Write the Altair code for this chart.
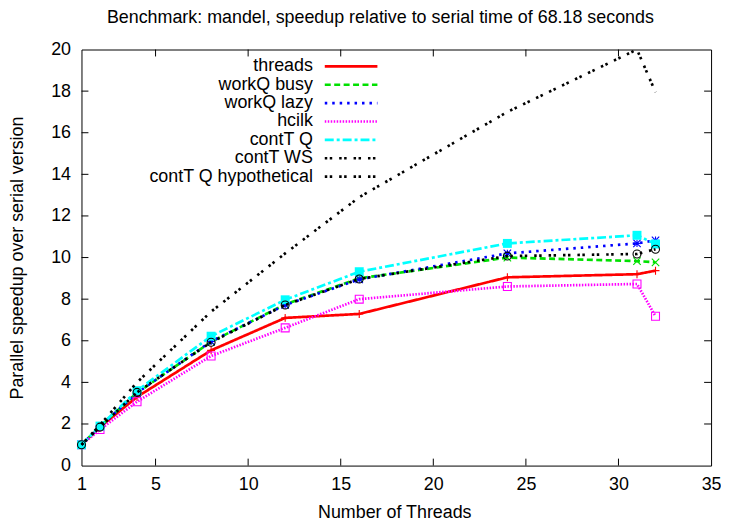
import altair as alt
import pandas as pd

threads_x = [1, 2, 4, 8, 12, 16, 24, 31, 32]

threads = [1.0, 1.85, 3.3, 5.54, 7.1, 7.29, 9.05, 9.2, 9.37]
workq_busy = [1.0, 1.88, 3.5, 5.95, 7.75, 9.0, 10.0, 9.83, 9.77]
workq_lazy = [1.0, 1.87, 3.5, 5.97, 7.72, 8.95, 10.2, 10.68, 10.83]
hcilk = [1.0, 1.73, 3.07, 5.27, 6.62, 8.0, 8.61, 8.73, 7.18]
contt_q = [1.0, 1.9, 3.6, 6.22, 7.97, 9.32, 10.68, 11.07, 10.65]
contt_ws = [1.0, 1.85, 3.52, 5.93, 7.72, 8.97, 10.07, 10.17, 10.4]
contt_q_hyp = [1.0, 1.95, 4.0, 7.4, 10.2, 12.9, 17.0, 20.0, 17.95]

series_names = ["threads", "workQ busy", "workQ lazy", "hcilk", "contT Q",
                "contT WS", "contT Q hypothetical"]
series_values = [threads, workq_busy, workq_lazy, hcilk, contt_q, contt_ws, contt_q_hyp]

x_ticks = [1, 5, 10, 15, 20, 25, 30, 35]
y_ticks = [0, 2, 4, 6, 8, 10, 12, 14, 16, 18, 20]

title_text = "Benchmark: mandel, speedup relative to serial time of 68.18 seconds"
x_title = "Number of Threads"
y_title = "Parallel speedup over serial version"

FONT = "Liberation Sans"
FS = 18
W, H = 634, 419

PLUS = "M-1,0L1,0M0,-1L0,1"
CROSS = "M-1,-1L1,1M-1,1L1,-1"
STAR = "M-1,0L1,0M0,-1L0,1M-1,-1L1,1M-1,1L1,-1"

styles = [
    dict(color="#ff0000", dash=[1, 0], shape=PLUS, filled=False, size=64),
    dict(color="#00e000", dash=[6, 3.5], shape=CROSS, filled=False, size=56),
    dict(color="#0000ff", dash=[2.5, 5], shape=STAR, filled=False, size=56),
    dict(color="#ff00ff", dash=[1.5, 1.5], shape="square", filled=False, size=64),
    dict(color="#00ffff", dash=[9, 3, 3, 3], shape="square", filled=True, size=81),
    dict(color="#000000", dash=[2.5, 2.5, 2.5, 7], shape="circle", filled=False, size=64),
    dict(color="#000000", dash=[2.5, 2.5, 2.5, 7], shape=None, filled=False, size=0),
]

xs = alt.Scale(domain=[1, 35], nice=False, zero=False)
ys = alt.Scale(domain=[0, 20], nice=False, zero=False)

x_axis = alt.Axis(values=x_ticks, title=x_title, domain=False, ticks=False, grid=False,
                  labelFont=FONT, labelFontSize=FS, labelColor="black", labelPadding=10,
                  titleFont=FONT, titleFontSize=FS, titleFontWeight="normal", titleColor="black",
                  titleX=W / 2 - 2, titleY=47, titleBaseline="middle", labelFlush=False)
y_axis = alt.Axis(values=y_ticks, title=y_title, domain=False, ticks=False, grid=False,
                  labelFont=FONT, labelFontSize=FS, labelColor="black", labelPadding=11,
                  titleFont=FONT, titleFontSize=FS, titleFontWeight="normal", titleColor="black",
                  titleX=-64, titleY=H / 2, titleBaseline="middle", titleAngle=-90,
                  labelFlush=False)

layers = []

# inward tick marks (bottom/top for x, left/right for y)
xt = pd.DataFrame({"t": x_ticks[1:-1]})
yt = pd.DataFrame({"t": y_ticks[1:-1]})
tick_len = 7
layers.append(alt.Chart(xt).mark_rule(color="black", strokeWidth=1).encode(
    x=alt.X("t:Q", scale=xs, axis=x_axis), y=alt.value(H), y2=alt.value(H - tick_len)))
layers.append(alt.Chart(xt).mark_rule(color="black", strokeWidth=1).encode(
    x=alt.X("t:Q", scale=xs), y=alt.value(0), y2=alt.value(tick_len)))
layers.append(alt.Chart(yt).mark_rule(color="black", strokeWidth=1).encode(
    y=alt.Y("t:Q", scale=ys, axis=y_axis), x=alt.value(0), x2=alt.value(tick_len)))
layers.append(alt.Chart(yt).mark_rule(color="black", strokeWidth=1).encode(
    y=alt.Y("t:Q", scale=ys), x=alt.value(W), x2=alt.value(W - tick_len)))

for i, (name, vals, st) in enumerate(zip(series_names, series_values, styles)):
    df = pd.DataFrame({"threads": threads_x, "speedup": vals, "series": name})
    base = alt.Chart(df).encode(x=alt.X("threads:Q", scale=xs),
                                y=alt.Y("speedup:Q", scale=ys))
    layers.append(base.mark_line(color=st["color"], strokeWidth=2.7,
                                 strokeDash=st["dash"], strokeCap="butt"))
    if st["shape"] is not None:
        if st["filled"]:
            layers.append(base.mark_point(shape=st["shape"], filled=True, color=st["color"],
                                          size=st["size"], opacity=1))
        else:
            layers.append(base.mark_point(shape=st["shape"], filled=False, color=st["color"],
                                          size=st["size"], strokeWidth=1.1, opacity=1))
    # legend entry
    ly = 17 + i * 18.5
    ldf = pd.DataFrame({"label": [name]})
    layers.append(alt.Chart(ldf).mark_text(align="right", baseline="middle", font=FONT,
                                           fontSize=FS, color="black").encode(
        text="label:N", x=alt.value(233), y=alt.value(ly)))
    layers.append(alt.Chart(ldf).mark_rule(color=st["color"], strokeWidth=2.7,
                                           strokeDash=st["dash"], strokeCap="butt").encode(
        x=alt.value(245), x2=alt.value(298), y=alt.value(ly)))

chart = alt.layer(*layers).properties(
    width=W, height=H,
    title=alt.TitleParams(title_text, font=FONT, fontSize=FS, fontWeight="normal",
                          color="black", anchor="middle", dx=-16, offset=14),
    autosize=alt.AutoSizeParams(type="none"),
    padding={"left": 74, "top": 40, "right": 10, "bottom": 56},
).configure_view(stroke="black", strokeWidth=1)

chart.save("out.html", embed_options={"renderer": "svg", "actions": False})
